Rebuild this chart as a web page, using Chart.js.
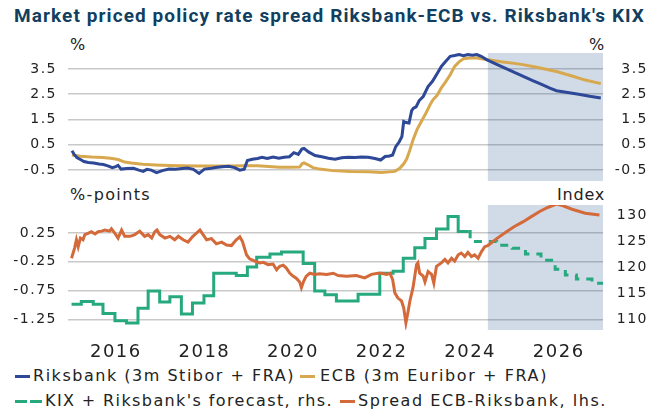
<!DOCTYPE html>
<html>
<head>
<meta charset="utf-8">
<script src="https://cdn.jsdelivr.net/npm/chart.js@4.4.1/dist/chart.umd.min.js"></script>
<style>
  body { margin: 0; background: #fff; }
  #wrap { position: relative; width: 648px; height: 409px; overflow: hidden; font-family: "DejaVu Sans", sans-serif; color: #222; }
  .abs { position: absolute; white-space: nowrap; line-height: 18px; }
  #title { left: 14px; top: 5px; font: bold 19px Roboto, sans-serif; line-height: 22px; color: #123f5f; }
  .unit { font-size: 16px; }
  .lt { font-size: 16px; }
  .mk { position: absolute; height: 3px; }
  canvas { position: absolute; left: 0; }
</style>
</head>
<body>
<div id="wrap">
  <div id="title" class="abs fit" data-w="631">Market priced policy rate spread Riksbank-ECB vs. Riksbank's KIX</div>
  <div class="abs unit" style="left:70px; top:36px">%</div>
  <div class="abs unit" style="left:589px; top:36px">%</div>
  <div class="abs unit fit" data-w="81" style="left:70px; top:186px">%-points</div>
  <div class="abs unit fit" data-w="48" style="left:557px; top:186px">Index</div>

  <canvas id="topChart" width="648" height="145" style="top:45px"></canvas>
  <canvas id="botChart" width="648" height="165" style="top:195px"></canvas>

  <div class="mk" style="left:15px; top:375px; width:15px; background:#2d4896"></div>
  <div class="abs lt fit" data-w="262" style="left:33px; top:367px">Riksbank (3m Stibor + FRA)</div>
  <div class="mk" style="left:300px; top:375px; width:15px; background:#d8a84e"></div>
  <div class="abs lt fit" data-w="228" style="left:320px; top:367px">ECB (3m Euribor + FRA)</div>

  <div class="mk" style="left:15px; top:400px; width:12px; background:#26a97f"></div>
  <div class="mk" style="left:30px; top:400px; width:12px; background:#26a97f"></div>
  <div class="abs lt fit" data-w="288" style="left:45px; top:392px">KIX + Riksbank's forecast, rhs.</div>
  <div class="mk" style="left:340px; top:400px; width:15px; background:#d4693a"></div>
  <div class="abs lt fit" data-w="249" style="left:358px; top:392px">Spread ECB-Riksbank, lhs.</div>
</div>

<script>
// x axis tick years and axis ticks
const years = [2016, 2018, 2020, 2022, 2024, 2026];
const rateTicks = [-0.5, 0.5, 1.5, 2.5, 3.5];
const spreadTicks = [-1.25, -0.75, -0.25, 0.25];
const kixTicks = [110, 115, 120, 125, 130];
const forecastStart = 2024.4;

// Riksbank (3m Stibor + FRA), %
const riksDates = [2015.01, 2015.06, 2015.12, 2015.2, 2015.28, 2015.38, 2015.5, 2015.62, 2015.72, 2015.82, 2015.92, 2016.0, 2016.05, 2016.12, 2016.25, 2016.4, 2016.52, 2016.62, 2016.7, 2016.8, 2016.92, 2017.05, 2017.2, 2017.35, 2017.5, 2017.62, 2017.75, 2017.88, 2018.0, 2018.12, 2018.25, 2018.4, 2018.55, 2018.68, 2018.8, 2018.9, 2018.97, 2019.08, 2019.2, 2019.3, 2019.42, 2019.55, 2019.68, 2019.8, 2019.92, 2020.02, 2020.12, 2020.2, 2020.25, 2020.35, 2020.5, 2020.65, 2020.8, 2020.95, 2021.1, 2021.25, 2021.4, 2021.55, 2021.7, 2021.85, 2021.98, 2022.08, 2022.18, 2022.25, 2022.32, 2022.4, 2022.46, 2022.5, 2022.55, 2022.62, 2022.68, 2022.72, 2022.78, 2022.85, 2022.94, 2023.05, 2023.15, 2023.25, 2023.35, 2023.45, 2023.55, 2023.65, 2023.75, 2023.85, 2023.95, 2024.05, 2024.15, 2024.25, 2024.37, 2024.6, 2024.8, 2025.0, 2025.2, 2025.4, 2025.6, 2025.8, 2025.95, 2026.2, 2026.45, 2026.7, 2026.95];
const riksValues = [0.27, 0.12, 0.0, -0.08, -0.16, -0.2, -0.22, -0.26, -0.28, -0.33, -0.4, -0.36, -0.31, -0.46, -0.44, -0.43, -0.5, -0.55, -0.47, -0.5, -0.6, -0.52, -0.46, -0.47, -0.44, -0.42, -0.47, -0.63, -0.46, -0.44, -0.4, -0.37, -0.35, -0.4, -0.5, -0.46, -0.12, -0.07, -0.04, 0.01, -0.04, 0.02, -0.03, 0.01, 0.03, 0.19, 0.12, 0.33, 0.36, 0.22, 0.08, 0.03, -0.03, -0.07, -0.01, 0.01, 0.0, 0.02, 0.01, -0.04, -0.1, 0.04, 0.06, 0.1, 0.43, 0.62, 0.83, 1.42, 1.38, 1.36, 1.85, 1.95, 2.0, 2.25, 2.41, 2.8, 3.01, 3.3, 3.6, 3.8, 4.0, 4.03, 4.07, 4.02, 4.07, 4.04, 4.07, 4.0, 3.87, 3.68, 3.52, 3.36, 3.21, 3.05, 2.9, 2.74, 2.64, 2.57, 2.5, 2.42, 2.35];

// ECB (3m Euribor + FRA), %
const ecbDates = [2015.01, 2015.2, 2015.45, 2015.7, 2015.88, 2016.05, 2016.2, 2016.35, 2016.6, 2016.9, 2017.2, 2017.5, 2017.8, 2018.1, 2018.5, 2018.9, 2019.2, 2019.45, 2019.7, 2019.95, 2020.15, 2020.21, 2020.25, 2020.33, 2020.45, 2020.6, 2020.9, 2021.3, 2021.7, 2022.0, 2022.3, 2022.41, 2022.5, 2022.57, 2022.64, 2022.71, 2022.8, 2022.88, 2023.0, 2023.1, 2023.16, 2023.25, 2023.35, 2023.45, 2023.55, 2023.65, 2023.75, 2023.85, 2024.0, 2024.15, 2024.37, 2024.7, 2025.0, 2025.19, 2025.5, 2025.95, 2026.3, 2026.6, 2026.95];
const ecbValues = [0.10, 0.05, 0.02, 0.0, -0.03, -0.08, -0.18, -0.22, -0.27, -0.3, -0.32, -0.33, -0.34, -0.34, -0.34, -0.33, -0.33, -0.36, -0.39, -0.39, -0.38, -0.24, -0.21, -0.28, -0.4, -0.46, -0.52, -0.55, -0.56, -0.59, -0.55, -0.43, -0.25, -0.05, 0.3, 0.69, 1.1, 1.36, 1.75, 2.1, 2.28, 2.45, 2.75, 3.0, 3.27, 3.6, 3.78, 3.9, 3.93, 3.93, 3.87, 3.78, 3.72, 3.67, 3.57, 3.4, 3.22, 3.06, 2.92];

// Spread ECB-Riksbank, %-points (lhs)
const spreadDates = [2015.0, 2015.07, 2015.11, 2015.15, 2015.2, 2015.26, 2015.3, 2015.37, 2015.45, 2015.53, 2015.6, 2015.68, 2015.75, 2015.86, 2015.9, 2015.98, 2016.05, 2016.13, 2016.2, 2016.32, 2016.43, 2016.54, 2016.65, 2016.73, 2016.81, 2016.88, 2016.93, 2016.99, 2017.11, 2017.22, 2017.33, 2017.41, 2017.52, 2017.63, 2017.74, 2017.9, 2017.97, 2018.05, 2018.16, 2018.27, 2018.39, 2018.5, 2018.61, 2018.72, 2018.8, 2018.86, 2018.95, 2019.02, 2019.14, 2019.25, 2019.33, 2019.44, 2019.55, 2019.63, 2019.7, 2019.78, 2019.85, 2019.93, 2020.0, 2020.08, 2020.15, 2020.19, 2020.24, 2020.3, 2020.38, 2020.49, 2020.6, 2020.76, 2020.91, 2021.02, 2021.21, 2021.43, 2021.62, 2021.77, 2021.92, 2022.0, 2022.11, 2022.19, 2022.25, 2022.3, 2022.37, 2022.45, 2022.5, 2022.55, 2022.6, 2022.64, 2022.71, 2022.79, 2022.82, 2022.86, 2022.94, 2022.98, 2023.05, 2023.13, 2023.18, 2023.24, 2023.35, 2023.43, 2023.5, 2023.58, 2023.65, 2023.73, 2023.8, 2023.88, 2023.95, 2024.03, 2024.1, 2024.18, 2024.26, 2024.33, 2024.4, 2024.6, 2024.82, 2025.0, 2025.19, 2025.4, 2025.57, 2025.75, 2025.95, 2026.1, 2026.3, 2026.6, 2026.92];
const spreadValues = [-0.19, -0.01, 0.13, 0.01, 0.16, 0.13, 0.22, 0.24, 0.27, 0.23, 0.27, 0.28, 0.30, 0.28, 0.32, 0.24, 0.16, 0.30, 0.19, 0.19, 0.22, 0.28, 0.19, 0.22, 0.16, 0.27, 0.30, 0.22, 0.16, 0.19, 0.13, 0.19, 0.13, 0.09, 0.19, 0.30, 0.22, 0.13, 0.15, 0.06, 0.09, 0.04, 0.03, 0.13, 0.18, 0.10, -0.13, -0.20, -0.24, -0.27, -0.26, -0.30, -0.29, -0.39, -0.33, -0.31, -0.36, -0.45, -0.50, -0.54, -0.60, -0.70, -0.59, -0.50, -0.45, -0.47, -0.46, -0.47, -0.45, -0.49, -0.50, -0.49, -0.53, -0.47, -0.45, -0.45, -0.47, -0.45, -0.56, -0.79, -0.88, -0.93, -1.05, -1.31, -1.11, -0.93, -0.70, -0.30, -0.27, -0.45, -0.50, -0.60, -0.42, -0.47, -0.62, -0.33, -0.27, -0.21, -0.27, -0.19, -0.24, -0.13, -0.10, -0.16, -0.09, -0.16, -0.13, -0.19, -0.07, 0.01, 0.03, 0.15, 0.27, 0.36, 0.44, 0.54, 0.62, 0.69, 0.75, 0.72, 0.66, 0.59, 0.56];

// KIX (rhs), step points: date of change, new level
const kixDates = [2015.0, 2015.22, 2015.49, 2015.71, 2015.98, 2016.24, 2016.5, 2016.73, 2016.99, 2017.22, 2017.48, 2017.73, 2017.99, 2018.21, 2018.72, 2018.97, 2019.18, 2019.48, 2019.74, 2020.23, 2020.49, 2020.72, 2020.98, 2021.47, 2021.96, 2022.26, 2022.49, 2022.75, 2022.98, 2023.24, 2023.5, 2023.73, 2023.97];
const kixValues = [112.9, 113.4, 112.9, 111.1, 109.7, 109.3, 112.1, 115.4, 113.3, 114.3, 111.0, 113.1, 114.5, 118.8, 118.4, 120.0, 121.9, 122.5, 122.9, 120.7, 115.4, 114.7, 113.5, 114.8, 118.8, 119.2, 121.7, 123.7, 125.5, 127.3, 129.7, 126.8, 126.8];

// Riksbank's KIX forecast (rhs, dashed)
const kixFcDates = [2023.97, 2024.0, 2024.6, 2024.95, 2025.25, 2025.6, 2025.92, 2026.15, 2026.4, 2026.75, 2027.0];
const kixFcValues = [126.8, 124.9, 124.2, 123.6, 122.5, 121.3, 119.6, 118.5, 117.7, 116.9, 116.9];

const pts = (d, v) => d.map((x, i) => ({ x: x, y: v[i] }));

// fit text widths to the reference
document.querySelectorAll('.fit').forEach(el => {
  const w = el.getBoundingClientRect().width;
  const n = el.textContent.length;
  el.style.letterSpacing = ((+el.dataset.w - w) / n) + 'px';
});

const shade = {
  id: 'shade',
  beforeDatasetsDraw(chart) {
    const { ctx, chartArea: a, scales: { x } } = chart;
    const left = x.getPixelForValue(forecastStart);
    ctx.save();
    ctx.fillStyle = 'rgba(40,80,140,0.21)';
    ctx.fillRect(left, a.top, a.right - left, a.bottom - a.top);
    ctx.restore();
  }
};
const spacing = { id: 'spacing', beforeDraw(chart) { chart.ctx.letterSpacing = '1.5px'; } };

function xScale(show) {
  return {
    type: 'linear', min: 2014.92, max: 2027.0, display: show,
    grid: { display: false }, border: { display: false },
    afterBuildTicks: s => { s.ticks = years.map(v => ({ value: v })); },
    afterFit: s => { if (show) s.height = 30; s.paddingLeft = 0; s.paddingRight = 0; },
    ticks: { color: '#222', font: { family: 'DejaVu Sans', size: 18 }, padding: 4, maxRotation: 0, autoSkip: false, callback: v => String(v) }
  };
}

function yScale(pos, min, max, tickVals, digits, grid) {
  const left = pos === 'left';
  return {
    type: 'linear', position: pos, min: min, max: max,
    grid: { display: grid, color: '#c9c9c9', lineWidth: 1.5, drawTicks: false },
    border: { display: false },
    afterBuildTicks: s => { s.ticks = tickVals.map(v => ({ value: v })); },
    afterFit: s => { s.width = left ? 68 : 45; s.paddingTop = 0; s.paddingBottom = 0; },
    ticks: {
      color: '#222', font: { family: 'DejaVu Sans', size: 14 },
      padding: left ? 11 : 17, crossAlign: left ? 'near' : 'far',
      autoSkip: false, callback: v => v.toFixed(digits)
    }
  };
}

const base = {
  responsive: false,
  animation: false,
  plugins: { legend: { display: false }, tooltip: { enabled: false } },
  elements: { point: { radius: 0 }, line: { tension: 0, borderCapStyle: 'butt' } }
};

new Chart(document.getElementById('topChart'), {
  type: 'line',
  data: {
    datasets: [
      { label: 'Riksbank (3m Stibor + FRA)', data: pts(riksDates, riksValues), borderColor: '#2d4896', borderWidth: 3, yAxisID: 'y' },
      { label: 'ECB (3m Euribor + FRA)', data: pts(ecbDates, ecbValues), borderColor: '#d8a84e', borderWidth: 3, yAxisID: 'y' }
    ]
  },
  options: Object.assign({}, base, {
    layout: { padding: { top: 8, bottom: 9, left: 0, right: 0 } },
    scales: {
      x: xScale(false),
      y: yScale('left', -0.93, 4.13, rateTicks, 1, true),
      y2: yScale('right', -0.93, 4.13, rateTicks, 1, false)
    }
  }),
  plugins: [shade, spacing]
});

new Chart(document.getElementById('botChart'), {
  type: 'line',
  data: {
    datasets: [
      { label: 'Spread ECB-Riksbank, lhs.', data: pts(spreadDates, spreadValues), borderColor: '#d4693a', borderWidth: 3, yAxisID: 'y' },
      { label: "KIX + Riksbank's forecast, rhs.", data: pts(kixDates, kixValues), borderColor: '#26a97f', borderWidth: 3, stepped: 'before', yAxisID: 'y2' },
      { label: 'KIX forecast', data: pts(kixFcDates, kixFcValues), borderColor: '#26a97f', borderWidth: 3, borderDash: [8, 7], stepped: 'before', yAxisID: 'y2' }
    ]
  },
  options: Object.assign({}, base, {
    layout: { padding: { top: 10, bottom: 0, left: 0, right: 0 } },
    scales: {
      x: xScale(true),
      y: yScale('left', -1.434, 0.733, spreadTicks, 2, true),
      y2: yScale('right', 107.95, 131.9, kixTicks, 0, false)
    }
  }),
  plugins: [shade, spacing]
});
</script>
</body>
</html>
